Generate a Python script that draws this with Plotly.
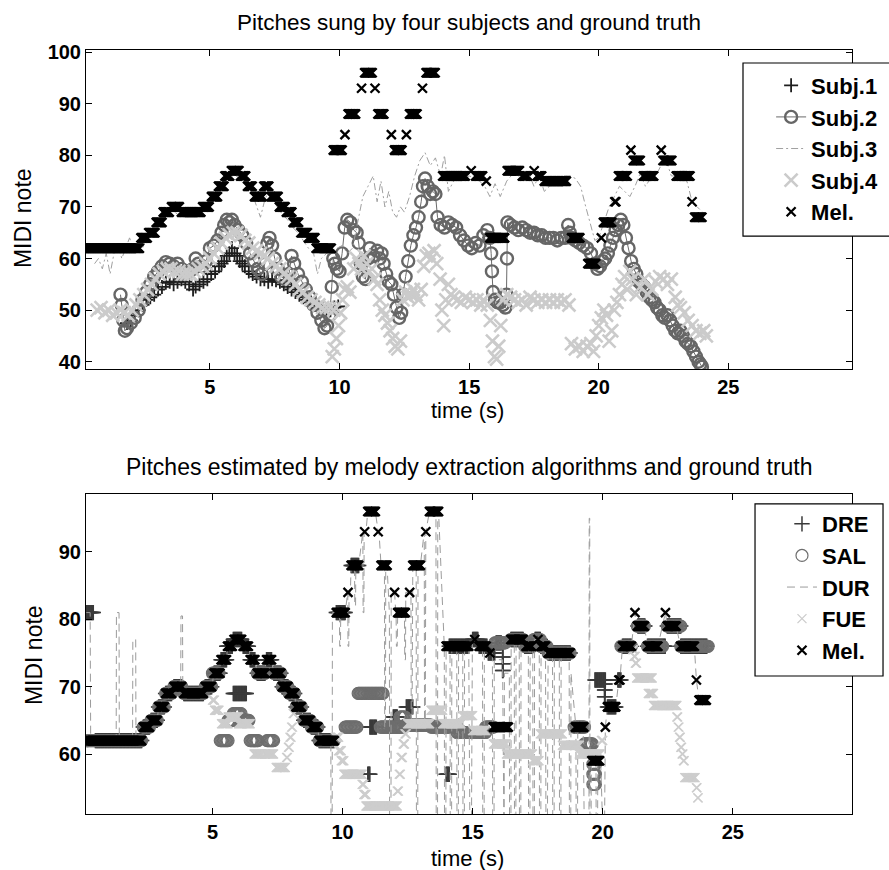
import numpy as np
import plotly.graph_objects as go

# ---------------- Ground-truth melody notes (onset s, offset s, MIDI pitch) ----------------
MEL_ON = [0.10, 2.34, 2.64, 2.93, 3.20, 3.52, 3.90, 4.72, 5.06, 5.33, 5.58, 5.83, 6.18, 6.45, 6.72,
          7.08, 7.36, 7.68, 7.95, 8.21, 8.51, 8.80, 9.10, 9.76, 10.21, 10.33, 10.85, 10.97, 11.37,
          11.48, 12.00, 12.12, 12.58, 12.70, 13.20, 13.34, 13.98, 15.08, 15.25, 15.66, 15.80, 16.47,
          17.05, 17.51, 17.62, 17.90, 18.95, 19.58, 20.10, 20.18, 20.62, 20.76, 21.24, 21.33, 21.72,
          22.41, 22.48, 22.99, 23.60, 23.70]
MEL_OFF = [2.28, 2.58, 2.88, 3.15, 3.43, 3.82, 4.65, 4.97, 5.29, 5.54, 5.76, 6.12, 6.38, 6.63, 7.02,
           7.27, 7.63, 7.90, 8.16, 8.42, 8.76, 9.05, 9.68, 10.10, 10.21, 10.62, 10.85, 11.26, 11.37,
           11.71, 12.00, 12.41, 12.58, 12.99, 13.20, 13.69, 14.85, 15.08, 15.52, 15.66, 16.37, 16.94,
           17.26, 17.51, 17.80, 18.75, 19.27, 19.88, 20.10, 20.50, 20.66, 21.10, 21.24, 21.60, 22.12,
           22.41, 22.82, 23.52, 23.60, 23.98]
MEL_PITCH = [62, 64, 65, 67, 69, 70, 69, 70, 72, 74, 76, 77, 76, 74, 72,
             74, 72, 70, 69, 67, 65, 64, 62, 81, 84, 88, 93, 96, 93,
             88, 84, 81, 84, 88, 93, 96, 76, 77, 76, 75, 64, 77,
             76, 77, 76, 75, 64, 59, 64, 67, 71, 76, 81, 79, 76,
             81, 79, 76, 71, 68]

# ---------------- Sung pitches of the four subjects (time s, MIDI) ----------------
S1_T = [1.80, 1.95, 2.10, 2.25, 2.40, 2.55, 2.70, 2.85, 3.00, 3.15, 3.30, 3.45, 3.60, 3.75, 3.90,
        4.05, 4.20, 4.35, 4.45, 4.60, 4.75, 4.90, 5.05, 5.20, 5.35, 5.45, 5.55, 5.65, 5.75, 5.85,
        5.95, 6.05, 6.15, 6.25, 6.35, 6.50, 6.65, 6.80, 6.95, 7.10, 7.25, 7.40, 7.55, 7.70, 7.85,
        8.00, 8.15, 8.30, 8.45, 8.60, 8.75, 8.90, 9.05, 9.20, 9.35, 9.50, 9.65, 9.80, 9.95]
S1_V = [47.5, 48.0, 49.0, 50.0, 51.0, 52.0, 52.5, 53.0, 54.0, 54.5, 55.3, 55.5, 55.0, 55.5, 56.0,
        55.5, 55.0, 54.0, 54.6, 55.0, 55.5, 56.0, 57.0, 57.5, 58.5, 59.0, 59.5, 60.5, 61.0, 62.0,
        61.0, 60.5, 59.5, 59.0, 58.5, 57.5, 57.0, 56.5, 56.0, 56.0, 55.5, 56.0, 55.8, 55.5, 55.0,
        54.5, 54.0, 53.5, 53.0, 52.5, 52.0, 51.5, 51.0, 50.5, 50.5, 50.0, 50.0, 50.5, 50.7]

S2_T = [1.55, 1.60, 1.66, 1.72, 1.80, 1.95, 2.10, 2.25, 2.40, 2.55, 2.70, 2.85, 3.00, 3.15, 3.30,
        3.45, 3.60, 3.75, 3.90, 4.05, 4.20, 4.35, 4.45, 4.55, 4.70, 4.85, 5.00, 5.15, 5.30, 5.45,
        5.55, 5.65, 5.75, 5.85, 5.95, 6.10, 6.25, 6.40, 6.55, 6.70, 6.85, 7.00, 7.12, 7.22, 7.30,
        7.40, 7.50, 7.62, 7.75, 7.90, 8.05, 8.15, 8.25, 8.40, 8.55, 8.70, 8.85, 9.00, 9.15, 9.30,
        9.42, 9.52, 9.62, 9.70, 9.76, 9.82, 9.90, 10.00, 10.10, 10.20, 10.30, 10.42, 10.55, 10.66,
        10.74, 10.82, 10.90, 11.00, 11.10, 11.17, 11.30, 11.45, 11.55, 11.62, 11.70, 11.80, 11.90,
        12.00, 12.10, 12.20, 12.30, 12.38, 12.45, 12.55, 12.65, 12.75, 12.85, 12.95, 13.05, 13.15,
        13.22, 13.30, 13.40, 13.50, 13.60, 13.70, 13.78, 13.90, 14.05, 14.20, 14.35, 14.50, 14.65,
        14.80, 14.96, 15.10, 15.25, 15.40, 15.55, 15.70, 15.80, 15.85, 15.88, 15.92, 16.00, 16.10,
        16.20, 16.30, 16.40, 16.44, 16.46, 16.48, 16.60, 16.75, 16.90, 17.05, 17.20, 17.35, 17.50,
        17.65, 17.80, 17.95, 18.10, 18.25, 18.40, 18.55, 18.70, 18.82, 18.88, 18.95, 19.10, 19.25,
        19.40, 19.55, 19.70, 19.85, 19.95, 20.05, 20.15, 20.25, 20.35, 20.45, 20.55, 20.65, 20.75,
        20.85, 20.95, 21.05, 21.15, 21.25, 21.35, 21.45, 21.55, 21.65, 21.75, 21.85, 21.95, 22.05,
        22.15, 22.25, 22.35, 22.45, 22.55, 22.65, 22.75, 22.85, 22.95, 23.05, 23.15, 23.25, 23.35,
        23.45, 23.55, 23.65, 23.75, 23.85, 23.92, 23.98]
S2_V = [53.0, 51.0, 48.0, 46.0, 46.5, 47.5, 48.5, 50.0, 52.0, 53.5, 55.0, 56.5, 57.5, 58.5, 59.3,
        59.0, 58.5, 59.0, 58.0, 57.5, 57.5, 58.0, 60.0, 59.0, 58.5, 59.5, 62.0, 62.5, 63.5, 65.0,
        66.5, 67.5, 67.0, 67.5, 66.5, 65.5, 64.5, 63.0, 61.0, 59.5, 58.0, 57.0, 59.0, 63.0, 64.0,
        62.5, 60.0, 58.0, 56.5, 56.0, 57.0, 60.5, 59.0, 57.0, 55.5, 54.0, 52.5, 51.0, 49.5, 48.0,
        46.5, 47.0, 49.0, 54.5, 60.0, 59.0, 58.0, 57.5, 61.0, 66.0, 67.5, 67.0, 65.5, 65.0,
        63.0, 59.0, 56.5, 56.0, 60.0, 62.0, 60.5, 61.5, 60.0, 61.0, 59.0, 57.0, 55.5,
        55.0, 53.0, 50.5, 48.5, 49.5, 53.0, 56.5, 59.5, 62.5, 64.5, 66.0, 68.0, 71.0,
        74.0, 75.5, 74.0, 72.5, 73.0, 72.5, 68.0, 66.5, 66.0, 67.0, 66.5, 66.0, 64.5,
        63.5, 62.5, 62.0, 63.0, 62.5, 64.5, 65.5, 64.0, 61.0, 57.5, 53.5, 52.0, 51.5,
        51.5, 51.0, 50.5, 53.0, 60.0, 67.0, 66.5, 66.0, 65.5, 66.0, 65.5, 65.0, 65.0,
        64.5, 64.5, 64.0, 64.0, 64.0, 63.5, 64.0, 64.0, 66.5, 65.0, 64.0, 63.5, 63.0,
        62.5, 62.0, 61.0, 59.0, 58.0, 58.5, 59.5, 60.0, 61.0, 62.5, 64.0, 65.5, 66.5,
        67.5, 66.5, 64.0, 62.0, 59.5, 58.0, 57.0, 55.5, 55.0, 54.5, 53.5, 52.5, 52.0,
        51.5, 50.5, 50.0, 49.0, 48.5, 49.0, 48.0, 47.0, 46.0, 45.5, 46.0, 45.0, 44.0,
        43.5, 43.0, 42.0, 41.0, 40.0, 39.5, 39.0]

S3_T = [0.55, 0.70, 0.85, 1.00, 1.15, 1.30, 1.45, 1.60, 1.75, 1.90, 2.05, 2.20, 2.40, 2.60, 2.80,
        3.00, 3.20, 3.40, 3.60, 3.80, 4.00, 4.20, 4.40, 4.60, 4.80, 5.00, 5.20, 5.40, 5.60, 5.80,
        6.00, 6.20, 6.40, 6.60, 6.80, 6.95, 7.10, 7.25, 7.40, 7.60, 7.80, 8.00, 8.20, 8.40, 8.60,
        8.80, 9.00, 9.15, 9.30, 9.50, 9.70, 9.90, 10.10, 10.30, 10.50, 10.70, 10.90, 11.10, 11.30,
        11.45, 11.60, 11.75, 11.90, 12.05, 12.20, 12.35, 12.50, 12.70, 12.90, 13.10, 13.30, 13.50,
        13.70, 13.90, 14.05, 14.20, 14.40, 14.60, 14.80, 15.00, 15.30, 15.60, 15.80, 16.00, 16.20,
        16.45, 16.70, 16.90, 17.10, 17.30, 17.50, 17.70, 17.90, 18.10, 18.30, 18.60, 18.90, 19.10,
        19.30, 19.50, 19.70, 19.85, 20.00, 20.20, 20.40, 20.60, 20.80, 21.00, 21.20, 21.40, 21.60,
        21.80, 22.00, 22.20, 22.40, 22.60, 22.80, 23.00, 23.20, 23.40, 23.60, 23.80, 24.00]
S3_V = [59.0, 60.0, 58.0, 61.0, 57.0, 61.0, 63.0, 60.0, 62.0, 64.0, 62.0, 63.0, 62.0, 64.5, 66.0,
        67.5, 69.0, 69.5, 69.0, 68.5, 69.0, 68.5, 69.0, 69.0, 70.0, 71.5, 73.0, 74.0, 75.5, 76.0,
        76.0, 75.5, 74.5, 73.0, 70.0, 68.0, 71.0, 73.0, 71.5, 70.0, 68.5, 67.5, 66.0, 65.0, 63.5,
        62.0, 61.0, 57.0, 60.0, 61.0, 61.5, 62.0, 62.5, 61.0, 62.0, 67.0, 72.0, 74.0, 76.0,
        71.0, 75.0, 70.0, 73.0, 69.0, 68.0, 70.0, 69.0, 72.0, 76.0, 79.0, 80.5, 78.0,
        79.5, 76.0, 80.0, 73.0, 75.0, 76.0, 75.5, 76.0, 75.5, 74.0, 72.0, 74.5, 72.0,
        75.0, 76.5, 76.0, 75.0, 76.5, 74.0, 76.0, 73.0, 74.0, 75.0, 76.0, 76.0, 75.5,
        74.0, 70.0, 66.0, 63.5, 64.0, 67.0, 70.0, 72.0, 74.0, 73.0, 72.0, 74.0, 76.5,
        74.0, 75.5, 76.0, 78.0, 79.0, 76.0, 76.0, 76.0, 75.0, 71.0, 70.0, 69.0]

S4_T = [0.65, 0.80, 0.95, 1.10, 1.25, 1.40, 1.55, 1.70, 1.85, 2.00, 2.15, 2.30, 2.45, 2.60, 2.75,
        2.90, 3.05, 3.20, 3.35, 3.50, 3.65, 3.80, 3.95, 4.10, 4.25, 4.40, 4.55, 4.70, 4.85, 5.00,
        5.15, 5.30, 5.45, 5.60, 5.75, 5.90, 6.05, 6.20, 6.35, 6.50, 6.65, 6.80, 6.95, 7.10, 7.25,
        7.40, 7.55, 7.70, 7.85, 8.00, 8.15, 8.30, 8.45, 8.60, 8.75, 8.90, 9.05, 9.20, 9.35, 9.50,
        9.65, 9.78, 9.72, 9.80, 9.88, 9.96, 10.04, 10.12, 10.20, 10.30, 10.40, 10.55, 10.65, 10.75,
        10.85, 10.95, 11.05, 11.15, 11.25, 11.35, 11.45, 11.55, 11.65, 11.75, 11.85, 11.95, 12.05,
        12.15, 12.25, 12.35, 12.45, 12.55, 12.65, 12.75, 12.85, 12.95, 13.05, 13.15, 13.25, 13.35,
        13.45, 13.55, 13.65, 13.75, 13.88, 13.95, 14.02, 14.10, 14.20, 14.30, 14.40, 14.55, 14.70,
        14.85, 15.00, 15.15, 15.30, 15.45, 15.55, 15.70, 15.82, 15.90, 15.98, 16.06, 16.14, 16.22,
        16.32, 16.45, 16.60, 16.75, 16.90, 17.05, 17.20, 17.35, 17.50, 17.65, 17.80, 17.95, 18.10,
        18.25, 18.40, 18.55, 18.70, 18.85, 18.95, 19.10, 19.25, 19.40, 19.55, 19.70, 19.80, 19.90,
        20.00, 20.10, 20.20, 20.30, 20.40, 20.50, 20.60, 20.70, 20.80, 20.90, 21.00, 21.10, 21.20,
        21.30, 21.45, 21.60, 21.75, 21.90, 22.05, 22.20, 22.35, 22.50, 22.65, 22.80, 22.95, 23.05,
        23.15, 23.30, 23.45, 23.60, 23.75, 23.90, 24.05, 24.15]
S4_V = [50.0, 50.5, 49.5, 50.0, 49.0, 49.5, 50.0, 49.5, 49.0, 50.0, 51.0, 52.0, 53.0, 54.0, 55.0,
        56.0, 57.0, 57.5, 58.0, 58.0, 57.5, 57.5, 57.0, 57.0, 57.0, 57.5, 58.0, 58.5, 59.0, 60.0,
        61.0, 62.0, 63.0, 64.0, 64.5, 65.0, 65.0, 64.5, 63.5, 63.0, 62.0, 61.5, 61.0, 60.5, 60.0,
        59.0, 58.5, 58.0, 57.0, 56.5, 56.0, 55.0, 54.0, 53.5, 52.5, 52.0, 51.5, 51.0, 50.5, 50.5,
        50.5, 50.0, 41.0, 42.5, 44.5, 47.0, 49.5, 52.0, 54.0, 54.5, 53.5, 58.0, 60.0, 59.0,
        58.0, 60.5, 59.0, 57.5, 58.0, 56.0, 55.0, 52.0, 50.0, 49.0, 47.5, 46.0, 44.5,
        43.0, 42.5, 44.0, 52.0, 53.5, 52.5, 53.0, 54.0, 53.0, 52.0, 54.0, 58.5, 60.5,
        61.0, 60.0, 61.5, 59.0, 56.0, 50.0, 47.0, 52.0, 55.0, 53.0, 52.5, 52.0, 51.5,
        52.5, 52.0, 51.5, 52.0, 51.0, 52.0, 51.0, 48.0, 44.0, 41.0, 40.5, 43.0, 47.0,
        52.0, 53.0, 52.5, 52.0, 51.5, 52.0, 51.0, 52.5, 52.0, 51.5, 52.0, 51.5, 52.0,
        51.5, 52.0, 51.5, 52.0, 51.0, 43.5, 42.5, 43.0, 42.0, 43.0, 43.5, 42.0, 45.0,
        47.0, 48.5, 50.0, 49.0, 44.0, 46.0, 50.0, 51.5, 53.0, 55.0, 56.5, 54.0, 57.5,
        56.0, 53.0, 54.5, 56.0, 53.0, 54.0, 55.5, 56.5, 56.0, 55.0, 56.0, 52.5, 51.0,
        50.5, 49.5, 48.0, 47.0, 46.0, 45.5, 46.0, 45.0]

# ---------------- Melody-extraction algorithm outputs ----------------
# DRE, SAL, FUE: flat pitch segments (onset s, offset s, MIDI)
DRE_ON = [0.15, 0.50, 2.34, 2.64, 2.93, 3.20, 3.52, 3.90, 4.72, 5.06, 5.33, 5.55, 5.80, 6.18, 6.45,
          6.72, 7.08, 7.36, 7.68, 7.95, 8.21, 8.51, 8.80, 9.10, 5.80, 9.76, 10.33, 10.97, 11.05,
          11.95, 12.45, 13.98, 14.10, 15.00, 15.25, 15.60, 15.90, 16.15, 16.15, 16.15, 16.47, 17.00,
          17.40, 17.62, 17.90, 19.70, 20.07, 20.07, 20.07, 20.18, 20.58, 20.76, 21.35, 21.72, 22.48,
          23.00]
DRE_OFF = [0.42, 2.28, 2.58, 2.88, 3.15, 3.43, 3.82, 4.65, 4.97, 5.29, 5.54, 5.76, 6.12, 6.38, 6.63,
           7.02, 7.27, 7.63, 7.90, 8.16, 8.42, 8.76, 9.05, 9.68, 6.30, 10.10, 10.62, 11.05, 11.30,
           12.10, 12.70, 14.10, 14.85, 15.20, 15.55, 15.85, 16.10, 16.17, 16.17, 16.17, 16.94, 17.30,
           17.60, 17.82, 18.75, 20.10, 20.09, 20.09, 20.09, 20.50, 20.70, 21.10, 21.62, 22.40, 23.00,
           24.00]
DRE_PITCH = [81, 62, 64, 65, 67, 69, 70, 69, 70, 72, 74, 76, 77, 76, 74,
             72, 74, 72, 70, 69, 67, 65, 64, 62, 69, 81, 88, 57, 64,
             65.5, 67, 57, 76, 77, 76, 75, 76.5, 74.4, 73.4, 72.4, 77, 76,
             77, 76, 75, 71, 70.4, 69.5, 68.5, 67, 71, 76, 79, 76, 79,
             76]

SAL_ON = [0.15, 2.34, 2.64, 2.93, 3.20, 3.52, 3.90, 4.72, 5.00, 5.30, 5.60, 5.80, 6.10, 6.45, 6.72,
          7.10, 7.36, 7.68, 7.95, 8.21, 8.51, 8.80, 9.10, 10.10, 10.60, 11.45, 12.20, 12.40, 13.40,
          14.40, 15.50, 15.85, 16.47, 17.00, 17.35, 17.62, 17.90, 18.90, 19.30, 19.62, 19.62, 19.62,
          20.70, 21.33, 21.72, 22.48, 23.00]
SAL_OFF = [2.28, 2.58, 2.88, 3.15, 3.43, 3.82, 4.65, 4.97, 5.25, 5.60, 5.80, 6.10, 6.40, 6.75, 7.02,
           7.35, 7.63, 7.90, 8.16, 8.42, 8.76, 9.05, 9.68, 10.55, 11.55, 12.30, 12.40, 13.40, 14.40,
           15.50, 15.80, 16.25, 16.94, 17.30, 17.60, 17.85, 18.75, 19.30, 19.60, 19.72, 19.72, 19.72,
           21.10, 21.60, 22.30, 23.00, 24.05]
SAL_PITCH = [62, 64, 65, 67, 69, 70, 69, 70, 72, 62, 65, 66, 65, 62, 72,
             62, 72, 70, 69, 67, 65, 64, 62, 64, 69, 64, 65.5, 64.3, 64,
             63.2, 64, 76.5, 77, 76, 77, 76, 75, 64, 61.5, 55.5, 57, 58.5,
             76, 79, 76, 79, 76]

FUE_ON = [0.15, 2.34, 2.64, 2.93, 3.20, 3.52, 3.90, 4.72, 5.00, 5.08, 5.35, 5.60, 6.00, 6.60, 7.00,
          7.45, 7.85, 7.92, 7.98, 8.04, 8.10, 8.21, 8.51, 8.80, 9.10, 9.72, 9.85, 9.95, 10.05, 10.75,
          10.82, 10.90, 12.10, 12.18, 12.25, 12.33, 12.40, 12.50, 13.40, 13.85, 14.60, 15.00, 15.80,
          16.30, 17.30, 17.60, 18.45, 19.10, 19.95, 21.15, 21.20, 21.25, 21.30, 21.75, 21.95, 22.85,
          22.90, 22.95, 23.00, 23.05, 23.10, 23.15, 23.60, 23.65]
FUE_OFF = [2.28, 2.58, 2.88, 3.15, 3.43, 3.82, 4.65, 4.97, 5.08, 5.25, 5.60, 6.00, 6.45, 6.90, 7.35,
           7.80, 7.88, 7.95, 8.02, 8.08, 8.14, 8.42, 8.76, 9.05, 9.68, 9.85, 9.95, 10.05, 10.75, 10.82,
           10.90, 12.10, 12.15, 12.22, 12.30, 12.38, 12.45, 13.35, 13.85, 14.55, 15.00, 15.50, 16.30,
           17.30, 17.55, 18.45, 19.10, 19.90, 20.00, 21.20, 21.25, 21.30, 21.90, 21.95, 22.85, 22.88,
           22.93, 22.98, 23.03, 23.08, 23.13, 23.55, 23.62, 23.67]
FUE_PITCH = [62, 64, 65, 67, 69, 70, 69, 70, 68, 66.5, 64.5, 65.5, 64.5, 60, 60,
             58, 59.5, 61, 62.5, 64, 66, 67, 65, 64, 62, 62.5, 60.5, 59, 57, 55.5,
             54, 52.3, 54.5, 57, 59.5, 61.5, 63, 64.5, 66.5, 64.5, 65.7, 63.5, 61.5,
             60, 59, 63, 61.3, 60, 62, 75.5, 74.5, 73.5, 71.3, 69, 67.2, 65.5,
             64, 62.5, 61, 60, 59, 56.5, 55, 53.5]

# DUR: continuous pitch line (time s, MIDI); values of 45 lie below the visible range
DUR_T = [0.15, 0.30, 0.32, 1.30, 1.31, 1.41, 1.42, 1.93, 1.94, 2.05, 2.06, 2.28, 2.34, 2.58, 2.64,
         2.88, 2.93, 3.15, 3.20, 3.43, 3.52, 3.78, 3.79, 3.85, 3.86, 3.90, 4.65, 4.72, 4.97, 5.06,
         5.29, 5.33, 5.54, 5.58, 5.76, 5.83, 6.12, 6.18, 6.38, 6.45, 6.63, 6.72, 7.02, 7.08, 7.27,
         7.36, 7.63, 7.68, 7.90, 7.95, 8.16, 8.21, 8.42, 8.51, 8.76, 8.80, 9.05, 9.10, 9.55, 9.56,
         9.60, 9.61, 9.88, 9.89, 9.92, 9.93, 10.10, 10.20, 10.21, 10.24, 10.25, 10.30, 10.33, 10.46,
         10.47, 10.50, 10.51, 10.62, 10.78, 10.79, 10.82, 10.83, 10.90, 10.97, 11.26, 11.37, 11.40,
         11.48, 11.61, 11.62, 11.65, 11.66, 11.71, 11.80, 11.81, 11.86, 11.87, 12.00, 12.06, 12.07,
         12.10, 12.12, 12.38, 12.39, 12.42, 12.43, 12.58, 12.63, 12.64, 12.67, 12.70, 12.83, 12.84,
         12.89, 12.90, 12.99, 13.14, 13.15, 13.18, 13.20, 13.34, 13.59, 13.60, 13.65, 13.66, 13.69,
         13.91, 13.92, 13.97, 13.98, 14.13, 14.14, 14.19, 14.20, 14.39, 14.40, 14.45, 14.46, 14.62,
         14.63, 14.68, 14.69, 14.85, 14.90, 14.95, 14.99, 15.08, 15.25, 15.38, 15.39, 15.44, 15.45,
         15.52, 15.66, 15.76, 15.77, 15.82, 15.83, 16.15, 16.16, 16.21, 16.22, 16.41, 16.42, 16.47,
         16.48, 16.60, 16.61, 16.66, 16.67, 16.79, 16.80, 16.85, 16.86, 16.94, 17.05, 17.14, 17.15,
         17.20, 17.21, 17.31, 17.32, 17.37, 17.38, 17.56, 17.57, 17.62, 17.63, 17.80, 17.82, 17.87,
         17.90, 18.07, 18.08, 18.13, 18.14, 18.33, 18.34, 18.39, 18.40, 18.71, 18.72, 18.77, 18.78,
         18.95, 18.97, 18.98, 19.03, 19.04, 19.25, 19.30, 19.47, 19.48, 19.50, 19.51, 19.55, 19.56,
         19.74, 19.75, 19.80, 19.81, 19.92, 20.03, 20.06, 20.10, 20.18, 20.50, 20.62, 20.66, 20.76,
         21.10, 21.24, 21.33, 21.60, 21.72, 22.12, 22.41, 22.48, 22.82, 22.99, 23.52, 23.60, 23.70,
         23.98]
DUR_V = [81, 81, 62, 62, 81, 81, 62, 62, 77, 77, 62, 62, 64, 64, 65,
         65, 67, 67, 69, 69, 70, 70, 80.5, 80.5, 70, 69, 69, 70, 70, 72,
         72, 74, 74, 76, 76, 77, 77, 76, 76, 74, 74, 72, 72, 74, 74,
         72, 72, 70, 70, 69, 69, 67, 67, 65, 65, 64, 64, 62, 62, 45,
         45, 81, 81, 76, 76, 81, 81, 84, 76, 76, 84, 84, 88, 88,
         82, 82, 88, 88, 93, 81, 81, 93, 93, 96, 96, 93, 93,
         88, 88, 64, 64, 88, 88, 81, 45, 45, 84, 84, 80, 76,
         76, 81, 81, 74, 74, 84, 84, 84, 64, 64, 88, 88, 45,
         45, 88, 88, 93, 64, 64, 93, 96, 96, 45, 45, 96, 96,
         76, 45, 45, 76, 76, 45, 45, 76, 76, 45, 45, 76, 76,
         45, 45, 76, 76, 45, 45, 77, 77, 76, 76, 45, 45, 76,
         76, 75, 75, 45, 45, 74, 74, 45, 45, 72, 72, 45, 45,
         77, 77, 45, 45, 77, 77, 45, 45, 77, 77, 76, 76, 45,
         45, 76, 76, 45, 45, 77, 77, 45, 45, 76, 76, 45, 45,
         75, 75, 45, 45, 75, 75, 45, 45, 75, 75, 45, 45, 72,
         64, 64, 45, 45, 64, 64, 45, 45, 95, 95, 45, 45, 59,
         59, 45, 45, 59, 59, 45, 45, 64, 67, 67, 71, 71, 76,
         76, 81, 79, 79, 76, 76, 81, 79, 79, 76, 76, 71, 68,
         68]

TOP_TICKS_Y = [40, 50, 60, 70, 80, 90, 100]
BOT_TICKS_Y = [60, 70, 80, 90]
TICKS_X = [5, 10, 15, 20, 25]

FRAME = 0.03  # rendering hop (s) for flat-segment data


def seg_frames(on, off, pitch):
    ts, vs = [], []
    for a, b, p in zip(on, off, pitch):
        n = max(1, int(round((b - a) / FRAME)) + 1)
        ts.extend(np.linspace(a, b, n).tolist())
        vs.extend([p] * n)
    return ts, vs


FONT = "Liberation Sans, Arial, Helvetica, sans-serif"

mel_t, mel_v = seg_frames(MEL_ON, MEL_OFF, MEL_PITCH)
dre_t, dre_v = seg_frames(DRE_ON, DRE_OFF, DRE_PITCH)
sal_t, sal_v = seg_frames(SAL_ON, SAL_OFF, SAL_PITCH)
fue_t, fue_v = seg_frames(FUE_ON, FUE_OFF, FUE_PITCH)


def mk(symbol, size, color, width):
    return dict(symbol=symbol, size=size, color=color, line=dict(width=width, color=color))


fig = go.Figure()

# ---- top panel ----
fig.add_trace(go.Scatter(x=S1_T, y=S1_V, mode="markers", name="Subj.1", legend="legend",
                         marker=mk("cross-thin-open", 10, "#1e1e1e", 1.8), xaxis="x", yaxis="y"))
fig.add_trace(go.Scatter(x=S2_T, y=S2_V, mode="lines+markers", name="Subj.2", legend="legend",
                         line=dict(color="#6a6a6a", width=1),
                         marker=mk("circle-open", 12, "#666666", 2.4), xaxis="x", yaxis="y"))
fig.add_trace(go.Scatter(x=S3_T, y=S3_V, mode="lines", name="Subj.3", legend="legend",
                         line=dict(color="#a0a0a0", width=1, dash="7px,3px,2px,3px"),
                         xaxis="x", yaxis="y"))
fig.add_trace(go.Scatter(x=S4_T, y=S4_V, mode="markers", name="Subj.4", legend="legend",
                         marker=mk("x-thin-open", 13, "#cbcbcb", 2.6), xaxis="x", yaxis="y"))
fig.add_trace(go.Scatter(x=mel_t, y=mel_v, mode="markers", name="Mel.", legend="legend",
                         marker=mk("x-thin-open", 9, "#000000", 2.3), xaxis="x", yaxis="y"))

# ---- bottom panel ----
fig.add_trace(go.Scatter(x=dre_t, y=dre_v, mode="markers", name="DRE", legend="legend2",
                         marker=mk("cross-thin-open", 11, "#3a3a3a", 1.5), xaxis="x2", yaxis="y2"))
fig.add_trace(go.Scatter(x=sal_t, y=sal_v, mode="markers", name="SAL", legend="legend2",
                         marker=mk("circle-open", 12, "#6e6e6e", 1.2), xaxis="x2", yaxis="y2"))
fig.add_trace(go.Scatter(x=DUR_T, y=DUR_V, mode="lines", name="DUR", legend="legend2",
                         line=dict(color="#9c9c9c", width=1, dash="8px,5px"),
                         xaxis="x2", yaxis="y2"))
fig.add_trace(go.Scatter(x=fue_t, y=fue_v, mode="markers", name="FUE", legend="legend2",
                         marker=mk("x-thin-open", 9, "#cdcdcd", 1.3), xaxis="x2", yaxis="y2"))
fig.add_trace(go.Scatter(x=mel_t, y=mel_v, mode="markers", name="Mel.", legend="legend2",
                         marker=mk("x-thin-open", 9, "#000000", 2.3), xaxis="x2", yaxis="y2"))

axis_common = dict(showline=True, linecolor="black", linewidth=1, mirror="ticks", ticks="inside",
                   ticklen=6, tickcolor="black", tickwidth=1, showgrid=False, zeroline=False,
                   tickfont=dict(family=FONT, size=20, color="black", weight="bold"))

fig.update_layout(
    width=889, height=870,
    margin=dict(l=86, r=37, t=50, b=56, autoexpand=False),
    plot_bgcolor="white", paper_bgcolor="white",
    xaxis=dict(domain=[0, 1], anchor="y", range=[0.22, 29.77], tickvals=TICKS_X, **axis_common),
    yaxis=dict(domain=[0.5825, 1], anchor="x", range=[38.6, 100.4], tickvals=TOP_TICKS_Y, **axis_common),
    xaxis2=dict(domain=[0, 1], anchor="y2", range=[0.14, 29.58], tickvals=TICKS_X, **axis_common),
    yaxis2=dict(domain=[0, 0.4188], anchor="x2", range=[51.1, 98.6], tickvals=BOT_TICKS_Y, **axis_common),
    legend=dict(x=0.8944, y=0.981, xanchor="left", yanchor="top", bgcolor="rgba(0,0,0,0)",
                borderwidth=0, font=dict(family=FONT, size=22, color="black", weight="bold"),
                tracegroupgap=0, itemsizing="trace"),
    legend2=dict(x=0.9086, y=0.4070, xanchor="left", yanchor="top", bgcolor="rgba(0,0,0,0)",
                 borderwidth=0, font=dict(family=FONT, size=22, color="black", weight="bold"),
                 tracegroupgap=0, itemsizing="trace"),
    showlegend=True,
    shapes=[
        dict(type="rect", xref="paper", yref="paper", x0=0.8577, x1=1.06, y0=0.7565, y1=0.983,
             line=dict(color="black", width=1.2), fillcolor="white", layer="above"),
        dict(type="rect", xref="paper", yref="paper", x0=0.8734, x1=1.0405, y0=0.1806, y1=0.4058,
             line=dict(color="black", width=1.2), fillcolor="white", layer="above"),
    ],
    annotations=[
        dict(text="Pitches sung by four subjects and ground truth", xref="paper", yref="paper",
             x=0.5, y=1.0366, xanchor="center", yanchor="middle", showarrow=False,
             font=dict(family=FONT, size=22.5, color="black")),
        dict(text="Pitches estimated by melody extraction algorithms and ground truth", xref="paper",
             yref="paper", x=0.5, y=0.4542, xanchor="center", yanchor="middle", showarrow=False,
             font=dict(family=FONT, size=23, color="black")),
        dict(text="time (s)", xref="paper", yref="paper", x=0.498, y=0.5275, xanchor="center",
             yanchor="middle", showarrow=False, font=dict(family=FONT, size=22, color="black")),
        dict(text="time (s)", xref="paper", yref="paper", x=0.498, y=-0.0576, xanchor="center",
             yanchor="middle", showarrow=False, font=dict(family=FONT, size=22, color="black")),
        dict(text="MIDI note", xref="paper", yref="paper", x=-0.0822, y=0.780, xanchor="center",
             yanchor="middle", textangle=-90, showarrow=False, font=dict(family=FONT, size=23, color="black")),
        dict(text="MIDI note", xref="paper", yref="paper", x=-0.0679, y=0.208, xanchor="center",
             yanchor="middle", textangle=-90, showarrow=False, font=dict(family=FONT, size=23, color="black")),
    ],
)

fig.write_html("out.html", config={"displayModeBar": False})
